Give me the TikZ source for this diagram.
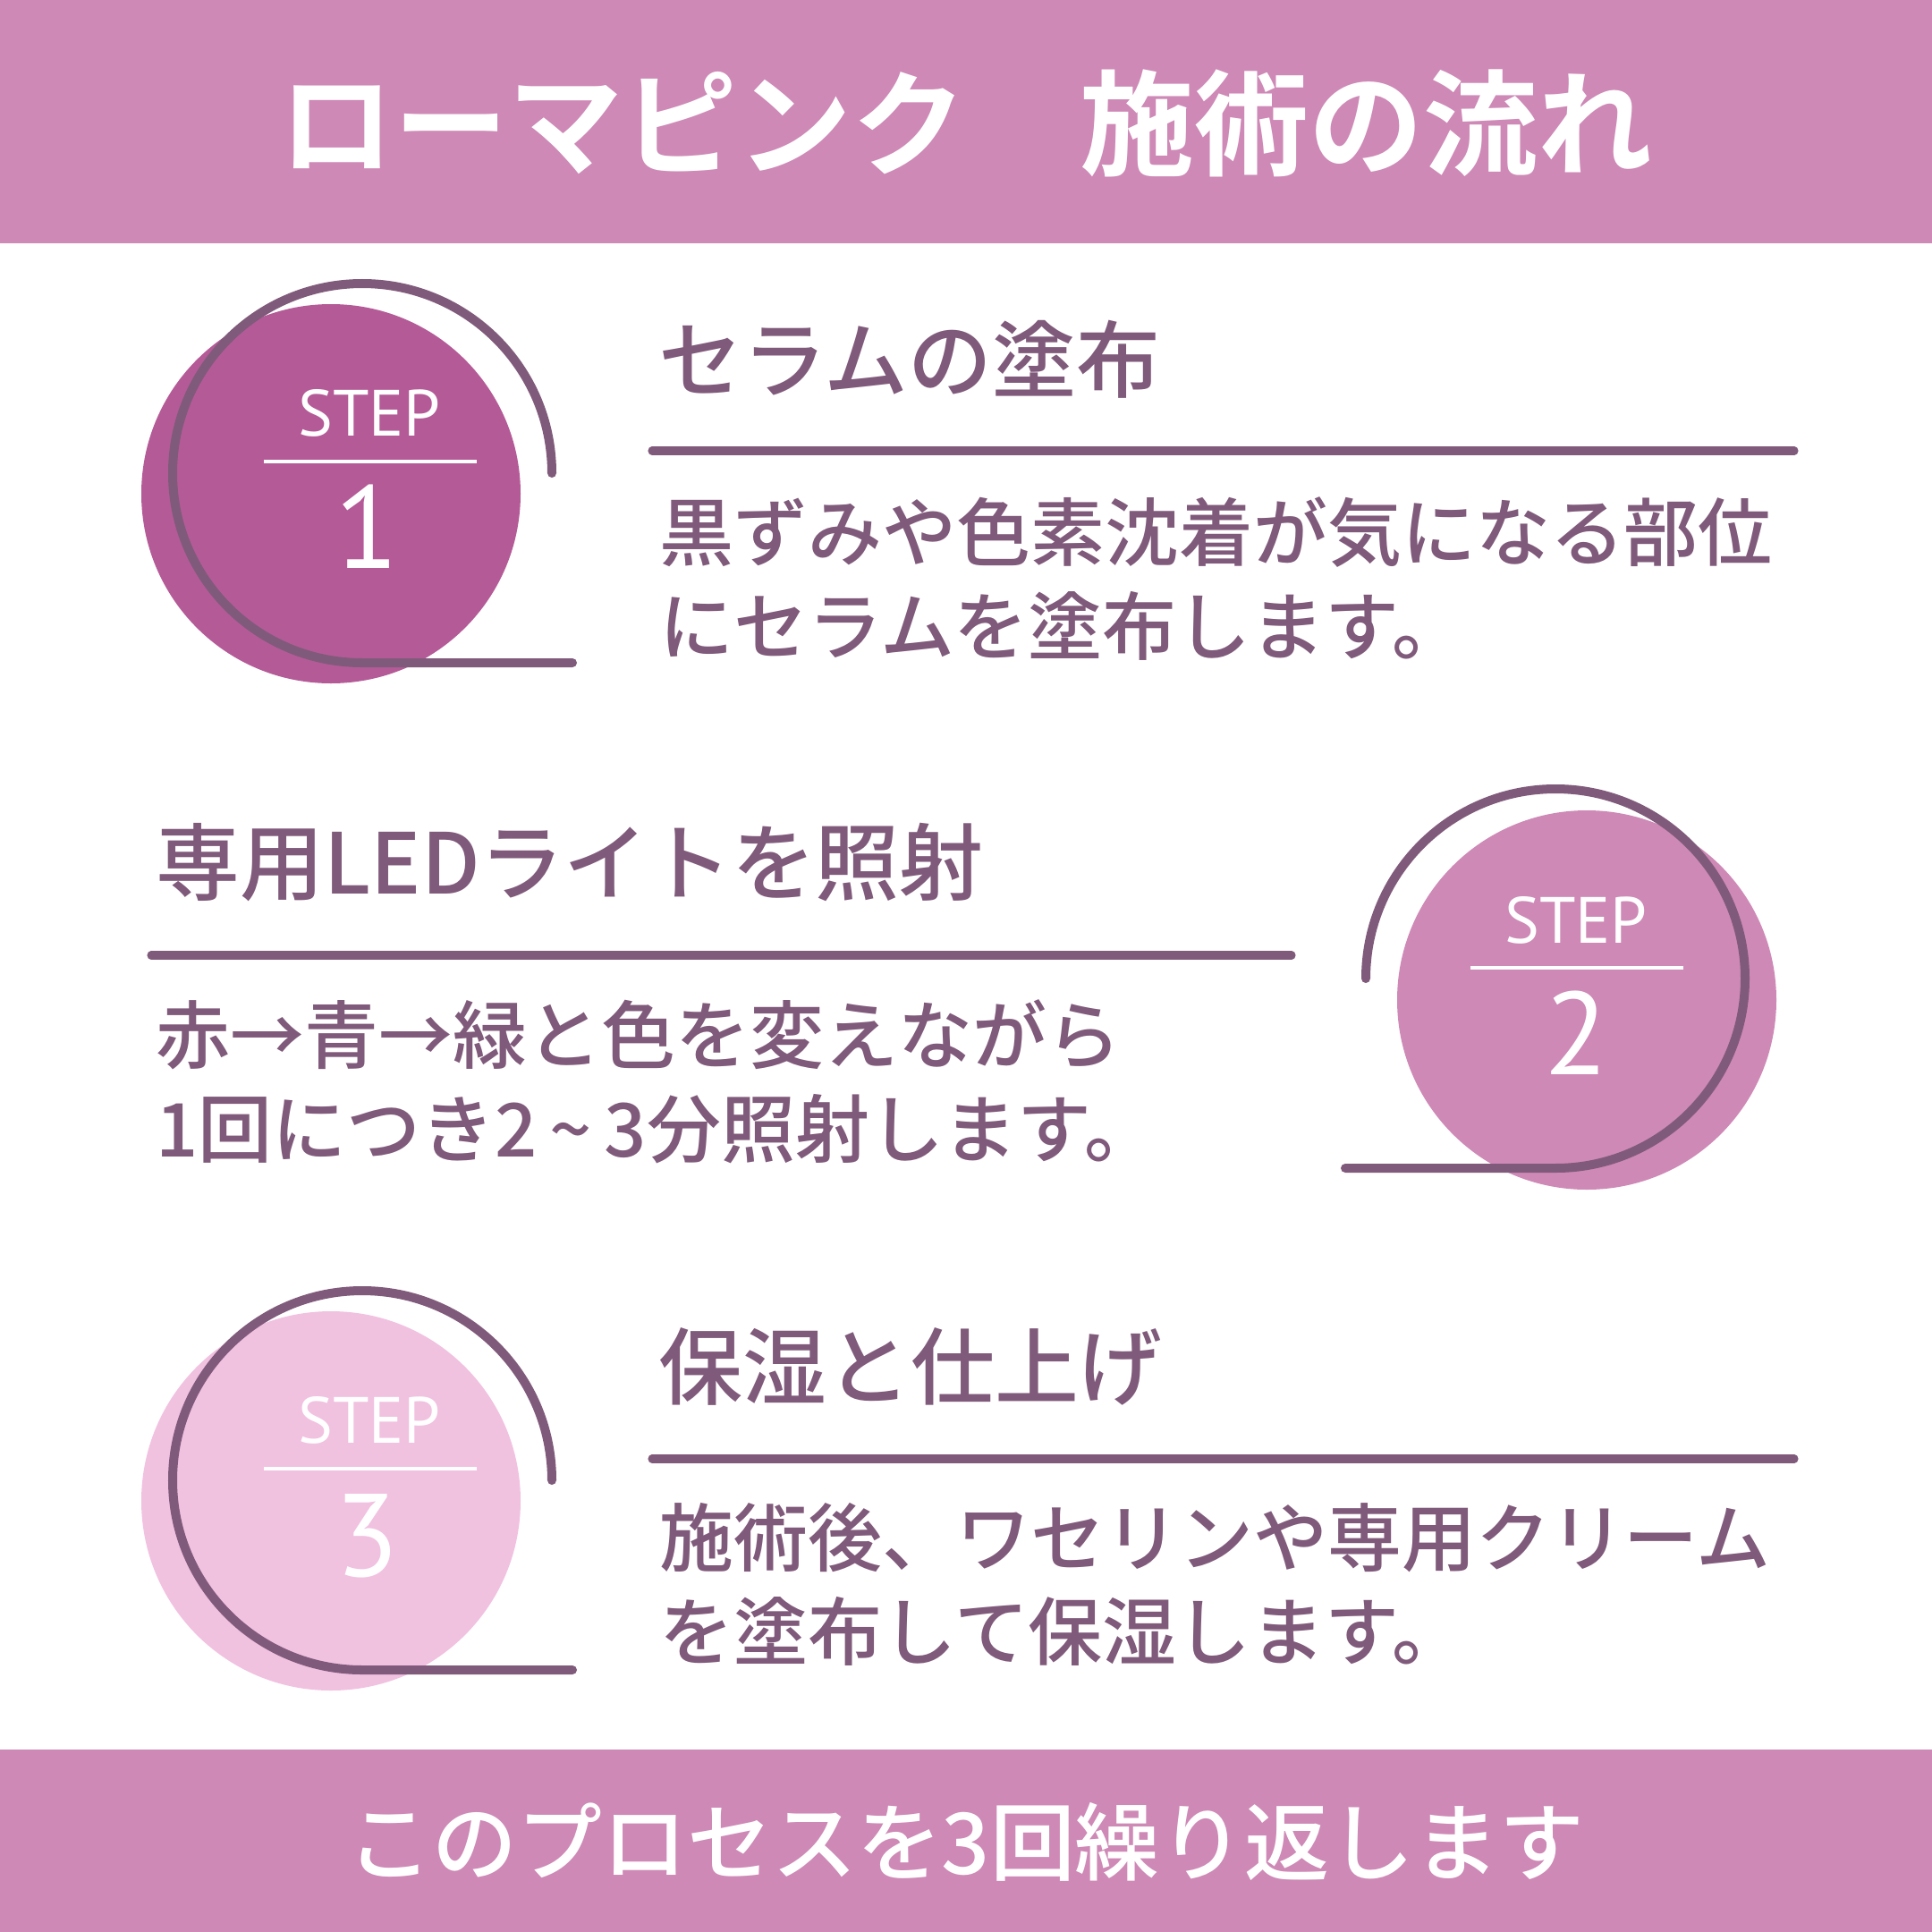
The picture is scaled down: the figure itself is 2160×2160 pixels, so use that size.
\documentclass[tikz,border=0pt]{standalone}
\usepackage{fontspec}
\usepackage{tikz}
\usepackage{xcolor}
\usetikzlibrary{calc,positioning}
\newfontfamily\jpfont{Noto Sans CJK JP}[UprightFont=* Medium, BoldFont=* Bold]
\newfontfamily\stepfont{PT Sans}
\definecolor{rosebar}{HTML}{CE89B6}
\definecolor{rosedeep}{HTML}{B45B97}
\definecolor{roselight}{HTML}{F1C1E0}
\definecolor{plum}{HTML}{805A7B}
\tikzset{
  steplabel/.style={white, inner sep=0pt, font=\stepfont\fontsize{20.8}{20.8}\selectfont},
  stepnum/.style={white, inner sep=0pt, font=\stepfont\fontsize{37.4}{37.4}\selectfont},
  stepring/.style={plum, line width=2.85pt, line cap=round},
  stepdivider/.style={white, line width=1pt},
  heading/.style={plum, anchor=west, inner sep=0pt, font=\jpfont\fontsize{26.7}{26.7}\selectfont},
  bodytext/.style={plum, anchor=west, inner sep=0pt, align=left, font=\jpfont\fontsize{23.6}{29.9}\selectfont},
  headrule/.style={plum, line width=2.6pt, line cap=round},
}

\begin{document}
\begin{tikzpicture}[x=0.1mm, y=0.1mm]
    \useasboundingbox (0,0) rectangle (2160,-2160);

    % Top and bottom bars
    \fill[rosebar] (0,0) rectangle (2160,-272);
    \fill[rosebar] (0,-1956) rectangle (2160,-2160);
    \node[white, inner sep=0pt, font=\jpfont\bfseries\fontsize{36.4}{36.4}\selectfont] (title) at (1080,-138) {ローマピンク　施術の流れ};
    \node[white, inner sep=0pt, font=\jpfont\fontsize{27}{27}\selectfont] (repeat) at (1080,-2059) {このプロセスを3回繰り返します};

    % Step 1
    \fill[rosedeep] (370,-552) circle (212);
    \draw[stepring] (617,-529) arc (0:270:212) -- (640,-741);
    \node[steplabel] (step1) at (413,-462) {STEP};
    \draw[stepdivider] (295,-516) -- (533,-516);
    \node[stepnum] (num1) at (410,-589) {1};

    \node[heading] (head1) at (736,-402) {セラムの塗布};
    \draw[headrule] (729,-504) -- (2006,-504);
    \node[bodytext] (body1) at (737,-647) {黒ずみや色素沈着が気になる部位\\にセラムを塗布します。};

    % Step 2
    \fill[rosebar] (1774,-1118) circle (212);
    \draw[stepring] (1527,-1094) arc (180:-90:212) -- (1504,-1306);
    \node[steplabel] (step2) at (1762,-1029) {STEP};
    \draw[stepdivider] (1644,-1082) -- (1882,-1082);
    \node[stepnum] (num2) at (1762,-1155) {2};

    \node[heading] (head2) at (174,-964) {専用LEDライトを照射};
    \draw[headrule] (169,-1068) -- (1444,-1068);
    \node[bodytext] (body2) at (174,-1209) {赤→青→緑と色を変えながら\\1回につき2\,\textasciitilde\,3分照射します。};

    % Step 3
    \fill[roselight] (370,-1678) circle (212);
    \draw[stepring] (617,-1655) arc (0:270:212) -- (640,-1867);
    \node[steplabel] (step3) at (413,-1588) {STEP};
    \draw[stepdivider] (295,-1642) -- (533,-1642);
    \node[stepnum] (num3) at (410,-1717) {3};

    \node[heading] (head3) at (736,-1528) {保湿と仕上げ};
    \draw[headrule] (729,-1631) -- (2006,-1631);
    \node[bodytext] (body3) at (737,-1771) {施術後、ワセリンや専用クリーム\\を塗布して保湿します。};

\end{tikzpicture}
\end{document}
